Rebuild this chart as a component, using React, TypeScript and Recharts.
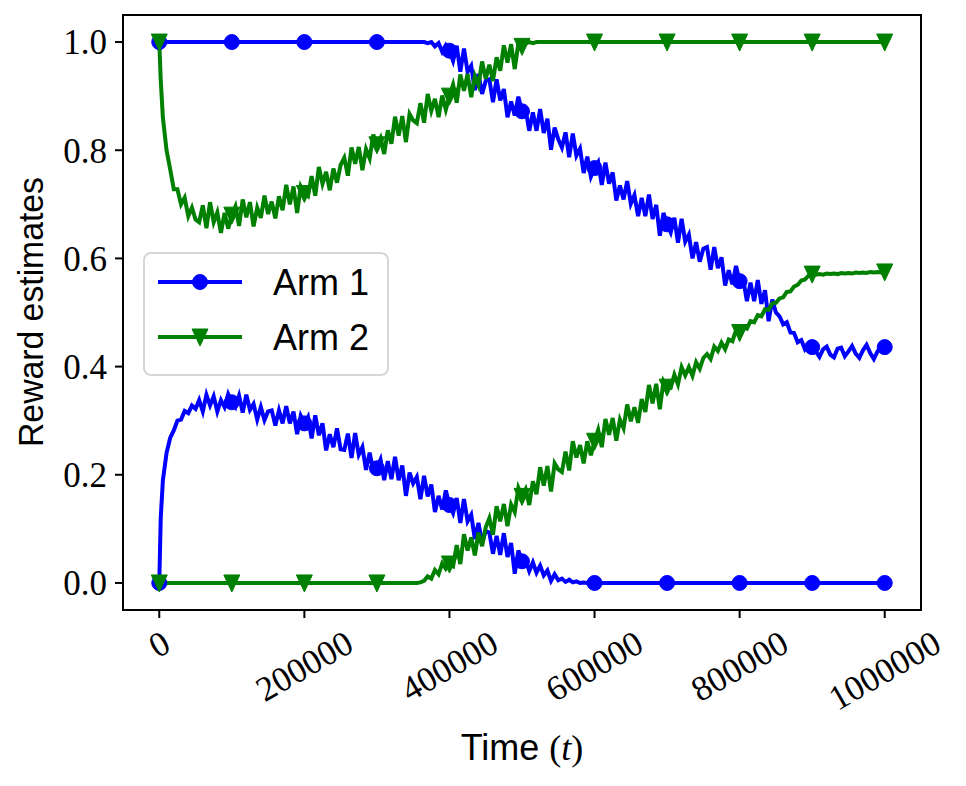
import React from 'react';
import { LineChart, Line, XAxis, YAxis, Legend, ReferenceArea } from 'recharts';

// time steps
const times = [
  0, 2000,
  5000, 10000, 15000, 20000, 25000, 30000, 35000, 40000, 45000, 50000,
  55000, 60000, 65000, 70000, 75000, 80000, 85000, 90000, 95000, 100000,
  105000, 110000, 115000, 120000, 125000, 130000, 135000, 140000, 145000, 150000,
  155000, 160000, 165000, 170000, 175000, 180000, 185000, 190000, 195000, 200000,
  205000, 210000, 215000, 220000, 225000, 230000, 235000, 240000, 245000, 250000,
  255000, 260000, 265000, 270000, 275000, 280000, 285000, 290000, 295000, 300000,
  305000, 310000, 315000, 320000, 325000, 330000, 335000, 340000, 345000, 350000,
  355000, 360000, 365000, 370000, 375000, 380000, 385000, 390000, 395000, 400000,
  405000, 410000, 415000, 420000, 425000, 430000, 435000, 440000, 445000, 450000,
  455000, 460000, 465000, 470000, 475000, 480000, 485000, 490000, 495000, 500000,
  505000, 510000, 515000, 520000, 525000, 530000, 535000, 540000, 545000, 550000,
  555000, 560000, 565000, 570000, 575000, 580000, 585000, 590000, 595000, 600000,
  605000, 610000, 615000, 620000, 625000, 630000, 635000, 640000, 645000, 650000,
  655000, 660000, 665000, 670000, 675000, 680000, 685000, 690000, 695000, 700000,
  705000, 710000, 715000, 720000, 725000, 730000, 735000, 740000, 745000, 750000,
  755000, 760000, 765000, 770000, 775000, 780000, 785000, 790000, 795000, 800000,
  805000, 810000, 815000, 820000, 825000, 830000, 835000, 840000, 845000, 850000,
  855000, 860000, 865000, 870000, 875000, 880000, 885000, 890000, 895000, 900000,
  905000, 910000, 915000, 920000, 925000, 930000, 935000, 940000, 945000, 950000,
  955000, 960000, 965000, 970000, 975000, 980000, 985000, 990000, 995000, 1000000,
];

// Arm 1, estimate starting at 1.0
const arm1High = [
  1, 1,
  1, 1, 1, 1, 1, 1, 1, 1, 1, 1,
  1, 1, 1, 1, 1, 1, 1, 1, 1, 1,
  1, 1, 1, 1, 1, 1, 1, 1, 1, 1,
  1, 1, 1, 1, 1, 1, 1, 1, 1, 1,
  1, 1, 1, 1, 1, 1, 1, 1, 1, 1,
  1, 1, 1, 1, 1, 1, 1, 1, 1, 1,
  1, 1, 1, 1, 1, 1, 1, 1, 1, 1,
  1, 1, 1, 0.998, 1, 0.992, 0.998, 0.982, 0.994, 0.984,
  0.965, 0.993, 0.945, 0.988, 0.945, 0.956, 0.911, 0.941, 0.904, 0.928,
  0.931, 0.889, 0.931, 0.892, 0.913, 0.861, 0.89, 0.864, 0.899, 0.872,
  0.875, 0.836, 0.87, 0.836, 0.876, 0.832, 0.858, 0.801, 0.842, 0.82,
  0.805, 0.833, 0.787, 0.831, 0.79, 0.803, 0.758, 0.788, 0.751, 0.767,
  0.778, 0.736, 0.777, 0.738, 0.759, 0.707, 0.735, 0.709, 0.743, 0.701,
  0.717, 0.678, 0.712, 0.678, 0.718, 0.673, 0.699, 0.642, 0.684, 0.663,
  0.648, 0.675, 0.629, 0.673, 0.631, 0.644, 0.6, 0.63, 0.594, 0.618,
  0.621, 0.579, 0.621, 0.582, 0.602, 0.55, 0.578, 0.552, 0.586, 0.558,
  0.561, 0.521, 0.555, 0.521, 0.56, 0.516, 0.541, 0.484, 0.524, 0.5,
  0.493, 0.478, 0.482, 0.463, 0.462, 0.445, 0.449, 0.432, 0.44, 0.436,
  0.428, 0.418, 0.432, 0.437, 0.422, 0.417, 0.433, 0.435, 0.419, 0.428,
  0.438, 0.424, 0.416, 0.43, 0.44, 0.425, 0.414, 0.428, 0.438, 0.436,
];

// Arm 1, estimate starting at 0.0
const arm1Low = [
  0, 0.12,
  0.19, 0.24, 0.268, 0.282, 0.3, 0.302, 0.318, 0.314, 0.328, 0.322,
  0.338, 0.317, 0.348, 0.328, 0.345, 0.317, 0.338, 0.325, 0.349, 0.334,
  0.325, 0.346, 0.315, 0.348, 0.32, 0.331, 0.302, 0.325, 0.301, 0.317,
  0.319, 0.291, 0.319, 0.295, 0.327, 0.295, 0.317, 0.275, 0.309, 0.295,
  0.307, 0.267, 0.31, 0.273, 0.295, 0.245, 0.275, 0.251, 0.286, 0.247,
  0.246, 0.276, 0.231, 0.277, 0.237, 0.251, 0.209, 0.241, 0.207, 0.212,
  0.228, 0.19, 0.225, 0.192, 0.233, 0.19, 0.217, 0.161, 0.204, 0.184,
  0.196, 0.155, 0.198, 0.16, 0.182, 0.131, 0.161, 0.136, 0.171, 0.144,
  0.129, 0.157, 0.111, 0.155, 0.114, 0.126, 0.081, 0.111, 0.074, 0.096,
  0.093, 0.054, 0.087, 0.052, 0.092, 0.048, 0.074, 0.017, 0.06, 0.04,
  0.042, 0.022, 0.038, 0.019, 0.032, 0.014, 0.023, 0.004, 0.016, 0.005,
  0.008, 0.002, 0.006, 0.001, 0.003, 0, 0.001, 0, 0, 0,
  0, 0, 0, 0, 0, 0, 0, 0, 0, 0,
  0, 0, 0, 0, 0, 0, 0, 0, 0, 0,
  0, 0, 0, 0, 0, 0, 0, 0, 0, 0,
  0, 0, 0, 0, 0, 0, 0, 0, 0, 0,
  0, 0, 0, 0, 0, 0, 0, 0, 0, 0,
  0, 0, 0, 0, 0, 0, 0, 0, 0, 0,
  0, 0, 0, 0, 0, 0, 0, 0, 0, 0,
  0, 0, 0, 0, 0, 0, 0, 0, 0, 0,
];

// Arm 2, estimate starting at 1.0
const arm2High = [
  1, 0.93,
  0.86, 0.8, 0.765, 0.728, 0.728, 0.7, 0.712, 0.678, 0.694, 0.672,
  0.667, 0.698, 0.656, 0.704, 0.667, 0.685, 0.647, 0.684, 0.655, 0.68,
  0.696, 0.66, 0.709, 0.676, 0.704, 0.659, 0.694, 0.675, 0.716, 0.682,
  0.705, 0.674, 0.715, 0.689, 0.736, 0.7, 0.733, 0.684, 0.733, 0.72,
  0.715, 0.752, 0.716, 0.769, 0.738, 0.76, 0.726, 0.766, 0.74, 0.773,
  0.786, 0.753, 0.805, 0.775, 0.806, 0.763, 0.802, 0.785, 0.829, 0.81,
  0.823, 0.793, 0.837, 0.812, 0.862, 0.827, 0.863, 0.815, 0.867, 0.855,
  0.85, 0.887, 0.851, 0.904, 0.873, 0.895, 0.861, 0.901, 0.875, 0.9,
  0.921, 0.888, 0.94, 0.91, 0.941, 0.898, 0.937, 0.92, 0.964, 0.932,
  0.958, 0.928, 0.972, 0.947, 0.994, 0.962, 0.996, 0.95, 0.998, 0.992,
  0.997, 1, 0.998, 1, 1, 1, 1, 1, 1, 1,
  1, 1, 1, 1, 1, 1, 1, 1, 1, 1,
  1, 1, 1, 1, 1, 1, 1, 1, 1, 1,
  1, 1, 1, 1, 1, 1, 1, 1, 1, 1,
  1, 1, 1, 1, 1, 1, 1, 1, 1, 1,
  1, 1, 1, 1, 1, 1, 1, 1, 1, 1,
  1, 1, 1, 1, 1, 1, 1, 1, 1, 1,
  1, 1, 1, 1, 1, 1, 1, 1, 1, 1,
  1, 1, 1, 1, 1, 1, 1, 1, 1, 1,
  1, 1, 1, 1, 1, 1, 1, 1, 1, 1,
];

// Arm 2, estimate starting at 0.0
const arm2Low = [
  0, 0,
  0, 0, 0, 0, 0, 0, 0, 0, 0, 0,
  0, 0, 0, 0, 0, 0, 0, 0, 0, 0,
  0, 0, 0, 0, 0, 0, 0, 0, 0, 0,
  0, 0, 0, 0, 0, 0, 0, 0, 0, 0,
  0, 0, 0, 0, 0, 0, 0, 0, 0, 0,
  0, 0, 0, 0, 0, 0, 0, 0, 0, 0,
  0, 0, 0, 0, 0, 0, 0, 0, 0, 0,
  0, 0.001, 0.004, 0.012, 0.008, 0.024, 0.016, 0.036, 0.026, 0.035,
  0.031, 0.07, 0.035, 0.09, 0.06, 0.084, 0.051, 0.093, 0.068, 0.103,
  0.12, 0.089, 0.142, 0.114, 0.146, 0.105, 0.145, 0.131, 0.176, 0.16,
  0.173, 0.144, 0.188, 0.164, 0.214, 0.18, 0.216, 0.169, 0.221, 0.21,
  0.205, 0.243, 0.208, 0.262, 0.232, 0.255, 0.221, 0.262, 0.236, 0.262,
  0.283, 0.251, 0.303, 0.274, 0.305, 0.263, 0.302, 0.286, 0.33, 0.299,
  0.325, 0.296, 0.34, 0.316, 0.366, 0.332, 0.368, 0.321, 0.373, 0.362,
  0.361, 0.385, 0.367, 0.399, 0.384, 0.399, 0.383, 0.408, 0.396, 0.416,
  0.423, 0.414, 0.437, 0.429, 0.444, 0.432, 0.45, 0.447, 0.467, 0.463,
  0.473, 0.47, 0.484, 0.482, 0.495, 0.493, 0.506, 0.505, 0.517, 0.518,
  0.526, 0.528, 0.538, 0.539, 0.548, 0.551, 0.559, 0.561, 0.568, 0.571,
  0.57, 0.571, 0.57, 0.572, 0.571, 0.572, 0.571, 0.573, 0.572, 0.573,
  0.572, 0.574, 0.573, 0.574, 0.573, 0.575, 0.574, 0.575, 0.574, 0.575,
];

const xTicks = [0, 200000, 400000, 600000, 800000, 1000000];
const yTicks = [0, 0.2, 0.4, 0.6, 0.8, 1.0];
const markEvery = 100000;

const BLUE = '#0000ff';
const GREEN = '#008000';
const SERIF = '"Liberation Serif", "DejaVu Serif", serif';
const SANS = '"Liberation Sans", Arial, sans-serif';

const rows = times.map((t, i) => ({
  t,
  a1hi: arm1High[i],
  a1lo: arm1Low[i],
  a2hi: arm2High[i],
  a2lo: arm2Low[i],
}));

const Marker = ({ kind, cx, cy, color }: { kind: string; cx: number; cy: number; color: string }) =>
  kind === 'circle' ? (
    <circle cx={cx} cy={cy} r={7.5} fill={color} stroke={color} />
  ) : (
    <polygon
      points={`${cx - 8},${cy - 8} ${cx + 8},${cy - 8} ${cx},${cy + 9}`}
      fill={color}
      stroke={color}
    />
  );

// markers only every 100000 steps, like markevery in the original
const makeDot = (kind: string, color: string) => (props: any) => {
  const { cx, cy, payload, index } = props;
  if (cx == null || cy == null || payload.t % markEvery !== 0) return <g key={`n${index}`} />;
  return (
    <g key={`m${index}`}>
      <Marker kind={kind} cx={cx} cy={cy} color={color} />
    </g>
  );
};

const XTick = (props: any) => {
  const { x, payload } = props;
  const label = String(payload.value);
  const fs = 35;
  const inkW = label.length * 0.5 * fs - 3;
  const bh = inkW * 0.5 + 25 * 0.866;
  const cy = 630 + bh / 2;
  return (
    <text
      x={x}
      y={cy}
      transform={`rotate(-30 ${x} ${cy})`}
      textAnchor="middle"
      dominantBaseline="central"
      fontFamily={SERIF}
      fontSize={fs}
      fill="#000"
    >
      {label}
    </text>
  );
};

const legendItems = [
  { name: 'Arm 1', color: BLUE, kind: 'circle' },
  { name: 'Arm 2', color: GREEN, kind: 'triangle' },
];

const LegendBox = () => (
  <svg width={246} height={124}>
    <rect x={1} y={1} width={244} height={122} rx={7} fill="#fff" fillOpacity={0.8} stroke="#d6d6d6" strokeWidth={2} />
    {legendItems.map((it, i) => {
      const y = 30 + i * 55;
      return (
        <g key={it.name}>
          <line x1={15} x2={99} y1={y} y2={y} stroke={it.color} strokeWidth={4} />
          <Marker kind={it.kind} cx={57} cy={y} color={it.color} />
          <text x={130} y={y + 13} fontFamily={SANS} fontSize={36} fill="#000">
            {it.name}
          </text>
        </g>
      );
    })}
  </svg>
);

const XTitle = (props: any) => {
  const vb = props.viewBox || { x: 123, width: 798 };
  const cx = vb.x + vb.width / 2;
  return (
    <text x={cx} y={760} textAnchor="middle" fontSize={36} fill="#000">
      <tspan fontFamily={SANS}>Time </tspan>
      <tspan fontFamily={SERIF}>(</tspan>
      <tspan fontFamily={SERIF} fontStyle="italic">t</tspan>
      <tspan fontFamily={SERIF}>)</tspan>
    </text>
  );
};

const YTitle = () => (
  <text
    x={43}
    y={312}
    transform="rotate(-90 43 312)"
    textAnchor="middle"
    fontFamily={SANS}
    fontSize={35}
    textLength={270}
    lengthAdjust="spacingAndGlyphs"
    fill="#000"
  >
    Reward estimates
  </text>
);

const lineProps = { strokeWidth: 4, activeDot: false, isAnimationActive: false, legendType: 'none' as const };

const App = () => (
  <div style={{ position: 'absolute', left: 0, top: 0, width: 966, height: 786, background: '#fff' }}>
    <LineChart
      width={966}
      height={786}
      data={rows}
      margin={{ top: 15, right: 45, bottom: 116, left: 63 }}
      style={{ fontFamily: SERIF }}
    >
      <XAxis
        dataKey="t"
        type="number"
        domain={[-50000, 1050000]}
        ticks={xTicks}
        height={60}
        axisLine={false}
        tickLine={{ stroke: '#000', strokeWidth: 2 }}
        tickSize={8}
        tickMargin={0}
        tick={<XTick />}
        interval={0}
        label={XTitle}
      />
      <YAxis
        type="number"
        domain={[-0.05, 1.05]}
        ticks={yTicks}
        width={60}
        axisLine={false}
        tickLine={{ stroke: '#000', strokeWidth: 2 }}
        tickSize={8}
        tickMargin={8}
        interval={0}
        tickFormatter={(v: number) => v.toFixed(1)}
        tick={{ fontFamily: SERIF, fontSize: 35, fill: '#000' }}
        label={YTitle}
      />
      <ReferenceArea
        x1={-50000}
        x2={1050000}
        y1={-0.05}
        y2={1.05}
        fill="none"
        fillOpacity={0}
        stroke="#000"
        strokeWidth={2}
        ifOverflow="visible"
      />
      <Line dataKey="a1hi" stroke={BLUE} dot={makeDot('circle', BLUE)} {...lineProps} />
      <Line dataKey="a1lo" stroke={BLUE} dot={makeDot('circle', BLUE)} {...lineProps} />
      <Line dataKey="a2hi" stroke={GREEN} dot={makeDot('triangle', GREEN)} {...lineProps} />
      <Line dataKey="a2lo" stroke={GREEN} dot={makeDot('triangle', GREEN)} {...lineProps} />
      <Legend
        layout="vertical"
        align="center"
        verticalAlign="middle"
        content={() => <LegendBox />}
        wrapperStyle={{ left: 143, top: 252, width: 246, height: 124 }}
      />
    </LineChart>
  </div>
);

export default App;
